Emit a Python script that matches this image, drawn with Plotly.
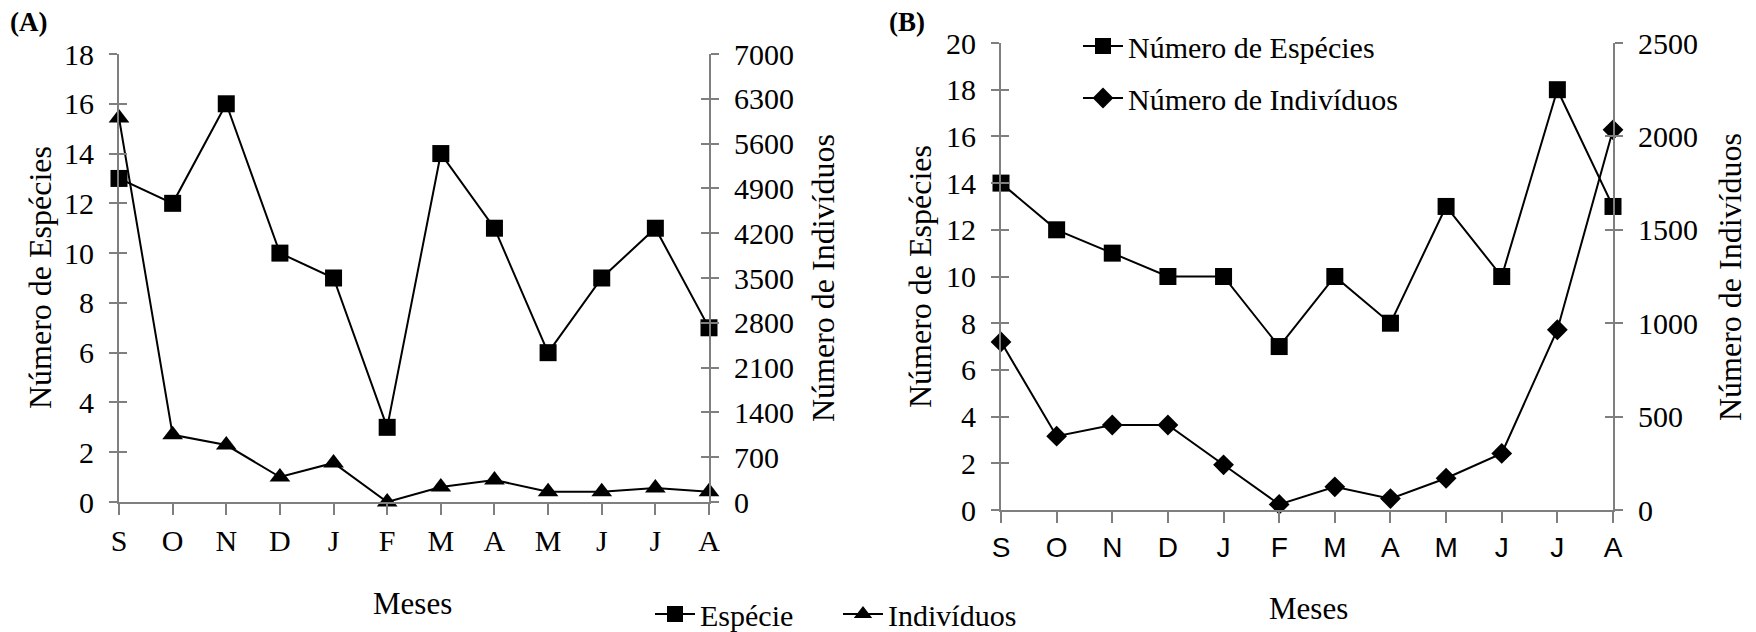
import plotly.graph_objects as go

W, H = 1756, 632

meses = ["S", "O", "N", "D", "J", "F", "M", "A", "M", "J", "J", "A"]
x_idx = list(range(len(meses)))

# Panel A
a_especies = [13, 12, 16, 10, 9, 3, 14, 11, 6, 9, 11, 7]
a_individuos = [6000, 1050, 890, 390, 610, 0, 235, 345, 160, 160, 220, 160]

# Panel B
b_especies = [14, 12, 11, 10, 10, 7, 10, 8, 13, 10, 18, 13]
b_individuos = [900, 395, 455, 455, 242, 30, 124, 61, 170, 303, 965, 2035]

SERIF = "Liberation Serif, Times New Roman, serif"
SANS = "Liberation Sans, Arial, sans-serif"
AXC = "#7f7f7f"


def px(x):
    return x / W


def py(y):
    return 1 - y / H


# domains (pixel based)
xa = [px(119), px(709)]
xb = [px(1001), px(1613)]
ya = [py(502), py(54)]
yb = [py(510), py(43)]

fig = go.Figure()

line = dict(color="black", width=2)

fig.add_trace(go.Scatter(x=x_idx, y=a_especies, xaxis="x", yaxis="y", mode="lines+markers",
                         name="Espécie", line=line, legend="legend",
                         marker=dict(symbol="square", size=17, color="black"), cliponaxis=False))
fig.add_trace(go.Scatter(x=x_idx, y=a_individuos, xaxis="x", yaxis="y2", mode="lines+markers",
                         name="Indivíduos", line=line, legend="legend",
                         marker=dict(symbol="triangle-up", size=18, color="black"), cliponaxis=False))
fig.add_trace(go.Scatter(x=x_idx, y=b_especies, xaxis="x2", yaxis="y3", mode="lines+markers",
                         name="Número de Espécies", line=line, legend="legend2", legendgroup="g1",
                         marker=dict(symbol="square", size=17, color="black"), cliponaxis=False))
fig.add_trace(go.Scatter(x=x_idx, y=b_individuos, xaxis="x2", yaxis="y4", mode="lines+markers",
                         name="Número de Indivíduos", line=line, legend="legend2", legendgroup="g2",
                         marker=dict(symbol="diamond", size=16, color="black"), cliponaxis=False))

tickfont = dict(family=SERIF, size=30, color="black")


def xaxis_cfg(domain, anchor, font, standoff):
    return dict(domain=domain, anchor=anchor, range=[0, 11], tickvals=x_idx, ticktext=meses,
                showline=True, linecolor=AXC, linewidth=2, ticks="outside", ticklen=11,
                tickwidth=2, tickcolor=AXC, showgrid=False, zeroline=False, tickfont=font,
                ticklabelstandoff=standoff, automargin=False)


def yaxis_cfg(domain, anchor, rng, dtick, side, overlaying=None):
    d = dict(domain=domain, anchor=anchor, range=rng, dtick=dtick, tick0=0, side=side,
             showline=True, linecolor=AXC, linewidth=2, ticks="outside", ticklen=8,
             tickwidth=2, tickcolor=AXC, showgrid=False, zeroline=False, tickfont=tickfont,
             ticklabelstandoff=9, automargin=False)
    if overlaying:
        d["overlaying"] = overlaying
    return d


def inner_ticks(domain, anchor, rng, dtick, side, overlaying):
    return dict(domain=domain, anchor=anchor, range=rng, dtick=dtick, tick0=0, side=side,
                overlaying=overlaying, showline=False, ticks="inside", ticklen=8, tickwidth=2,
                tickcolor=AXC, showticklabels=False, showgrid=False, zeroline=False,
                automargin=False)


fig.update_layout(
    template="none",
    width=W, height=H, margin=dict(l=0, r=0, t=0, b=0, pad=0, autoexpand=False),
    paper_bgcolor="white", plot_bgcolor="white",
    xaxis=xaxis_cfg(xa, "y", tickfont, 0),
    xaxis2=xaxis_cfg(xb, "y3", dict(family=SANS, size=28, color="black"), 0),
    yaxis=yaxis_cfg(ya, "x", [0, 18], 2, "left"),
    yaxis2=yaxis_cfg(ya, "x", [0, 7000], 700, "right", overlaying="y"),
    yaxis3=yaxis_cfg(yb, "x2", [0, 20], 2, "left"),
    yaxis4=yaxis_cfg(yb, "x2", [0, 2500], 500, "right", overlaying="y3"),
    yaxis5=inner_ticks(ya, "x", [0, 18], 2, "left", "y"),
    yaxis6=inner_ticks(ya, "x", [0, 7000], 700, "right", "y"),
    yaxis7=inner_ticks(yb, "x2", [0, 20], 2, "left", "y3"),
    yaxis8=inner_ticks(yb, "x2", [0, 2500], 500, "right", "y3"),
    legend=dict(orientation="h", x=px(650), y=py(614), xanchor="left", yanchor="middle",
                font=dict(family=SERIF, size=30, color="black"), bgcolor="rgba(0,0,0,0)",
                itemwidth=40, tracegroupgap=0, entrywidth=133, entrywidthmode="pixels"),
    legend2=dict(orientation="v", x=px(1078), y=py(20), xanchor="left", yanchor="top",
                 font=dict(family=SERIF, size=30, color="black"), bgcolor="rgba(0,0,0,0)",
                 traceorder="grouped", tracegroupgap=10, itemwidth=40),
    showlegend=True,
)

# dummy traces so the inner-tick axes render
for ax in ["y5", "y6"]:
    fig.add_trace(go.Scatter(x=[None], y=[None], xaxis="x", yaxis=ax, showlegend=False, hoverinfo="skip"))
for ax in ["y7", "y8"]:
    fig.add_trace(go.Scatter(x=[None], y=[None], xaxis="x2", yaxis=ax, showlegend=False, hoverinfo="skip"))

ann = []


def text(x, y, s, size=30, angle=0, family=SERIF, bold=False):
    ann.append(dict(x=px(x), y=py(y), xref="paper", yref="paper", text=f"<b>{s}</b>" if bold else s,
                    showarrow=False, textangle=angle, xanchor="center", yanchor="middle",
                    font=dict(family=family, size=size, color="black")))


text(28, 22, "(A)", size=27, bold=True)
text(907, 22, "(B)", size=27, bold=True)
text(40, 278, "Número de Espécies", size=32, angle=-90)
text(823, 278, "Número de Indivíduos", size=32, angle=-90)
text(920, 277, "Número de Espécies", size=32, angle=-90)
text(1730, 277, "Número de Indivíduos", size=32, angle=-90)
text(412, 603, "Meses", size=31)
text(1308, 608, "Meses", size=31)

fig.update_layout(annotations=ann)

fig.write_html("out.html")
